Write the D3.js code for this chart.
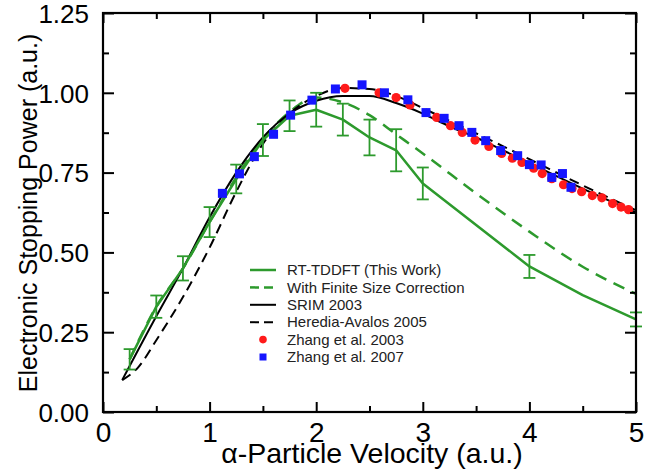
<!DOCTYPE html>
<html><head><meta charset="utf-8">
<script src="https://cdn.jsdelivr.net/npm/d3@7"></script>
<style>body{margin:0;background:#fff}svg{display:block;font-family:"Liberation Sans",Arial,Helvetica,sans-serif}</style>
</head><body><svg id="c" width="650" height="470"></svg>
<script>
// RT-TDDFT (This Work): points with error bars
const tdV   = [0.25,0.5,0.75,1.0,1.25,1.5,1.75,2.0,2.25,2.5,2.75,3.0,4.0,5.0];
const tdS   = [0.165,0.33,0.45,0.595,0.73,0.852,0.928,0.947,0.916,0.86,0.82,0.716,0.456,0.29];
const tdErr = [0.032,0.035,0.038,0.047,0.045,0.05,0.048,0.053,0.05,0.056,0.066,0.05,0.036,0.022];
// RT-TDDFT line
const tdLineV = [0.25,0.5,0.75,1.0,1.25,1.5,1.75,2.0,2.25,2.5,2.75,3.0,4.0,4.5,5.0];
const tdLineS = [0.165,0.33,0.45,0.595,0.73,0.852,0.928,0.947,0.916,0.86,0.82,0.716,0.456,0.366,0.29];
// With finite size correction
const fsV = [0.25,0.5,0.75,1.0,1.25,1.5,1.75,2.0,2.25,2.5,2.75,3.0,3.5,4.0,4.5,5.0];
const fsS = [0.165,0.33,0.45,0.595,0.735,0.855,0.94,0.985,0.97,0.93,0.87,0.81,0.685,0.565,0.455,0.37];
// SRIM 2003
const srimV = [0.18,0.5,0.75,1.0,1.25,1.5,1.75,2.0,2.25,2.5,2.75,3.0,3.25,3.5,3.75,4.0,4.5,5.0];
const srimS = [0.10,0.30,0.45,0.61,0.75,0.86,0.935,0.975,0.99,0.99,0.968,0.935,0.895,0.86,0.82,0.78,0.70,0.625];
// Heredia-Avalos 2005
const herV = [0.18,0.33,0.5,0.75,1.0,1.25,1.5,1.75,2.0,2.25,2.5,2.75,3.0,3.25,3.5,3.75,4.0,4.5,5.0];
const herS = [0.10,0.14,0.225,0.36,0.515,0.69,0.84,0.935,0.99,1.015,1.012,0.99,0.952,0.912,0.873,0.833,0.792,0.71,0.632];
// Zhang et al. 2003
const z03V = [2.27,2.59,2.75,2.88,3.13,3.26,3.37,3.49,3.62,3.74,3.84,3.93,4.04,4.12,4.21,4.32,4.40,4.49,4.59,4.68,4.78,4.86,4.93];
const z03S = [1.014,1.0,0.985,0.962,0.923,0.897,0.876,0.852,0.832,0.81,0.795,0.782,0.764,0.747,0.731,0.712,0.70,0.69,0.678,0.671,0.653,0.642,0.634];
// Zhang et al. 2007
const z07V = [1.12,1.28,1.42,1.6,1.76,1.96,2.18,2.43,2.64,2.86,3.03,3.2,3.34,3.46,3.59,3.73,3.89,4.0,4.11,4.21,4.31,4.39];
const z07S = [0.685,0.746,0.80,0.87,0.93,0.977,1.012,1.025,1.0,0.978,0.938,0.92,0.897,0.876,0.85,0.819,0.803,0.775,0.774,0.735,0.747,0.704];
// ticks and labels
const xMajor = [0,1,2,3,4,5];
const xMinor = [0.5,1.5,2.5,3.5,4.5];
const yMajor = [0,0.25,0.5,0.75,1.0,1.25];
const yMinor = [0.125,0.375,0.625,0.875,1.125];
const legendLabels = ["RT-TDDFT (This Work)","With Finite Size Correction","SRIM 2003","Heredia-Avalos 2005","Zhang et al. 2003","Zhang et al. 2007"];
const xTitle = "α-Particle Velocity (a.u.)";
const yTitle = "Electronic Stopping Power (a.u.)";

const GREEN = "#2d9a2d", RED = "#ff1a1a", BLUE = "#1515ff";
const FONT = "Liberation Sans, Arial, sans-serif";
const svg = d3.select("#c");
const L = 103, R = 636, T = 13, B = 412;
const x = d3.scaleLinear().domain([0,5]).range([L,R]);
const y = d3.scaleLinear().domain([0,1.25]).range([B,T]);
const zip = (a,b) => a.map((v,i)=>[v,b[i]]);

const plot = svg.append("g");
const smooth = d3.line().x(d=>x(d[0])).y(d=>y(d[1])).curve(d3.curveMonotoneX);
const straight = d3.line().x(d=>x(d[0])).y(d=>y(d[1]));

plot.append("path").attr("d", smooth(zip(fsV,fsS))).attr("fill","none").attr("stroke",GREEN).attr("stroke-width",2.5).attr("stroke-dasharray","12,8");
plot.append("path").attr("d", smooth(zip(herV,herS))).attr("fill","none").attr("stroke","#000").attr("stroke-width",2).attr("stroke-dasharray","10,6");
plot.append("path").attr("d", smooth(zip(srimV,srimS))).attr("fill","none").attr("stroke","#000").attr("stroke-width",2);
plot.append("path").attr("d", straight(zip(tdLineV,tdLineS))).attr("fill","none").attr("stroke",GREEN).attr("stroke-width",2.5).attr("stroke-linejoin","round");

// error bars
const eb = plot.append("g").attr("stroke",GREEN).attr("stroke-width",1.8);
tdV.forEach((v,i)=>{
  const cx = x(v), y1 = y(tdS[i]-tdErr[i]), y2 = y(tdS[i]+tdErr[i]);
  eb.append("line").attr("x1",cx).attr("x2",cx).attr("y1",y1).attr("y2",y2);
  eb.append("line").attr("x1",cx-6).attr("x2",cx+6).attr("y1",y1).attr("y2",y1);
  eb.append("line").attr("x1",cx-6).attr("x2",cx+6).attr("y1",y2).attr("y2",y2);
});

// markers
plot.append("g").selectAll("circle").data(zip(z03V,z03S)).join("circle")
  .attr("cx",d=>x(d[0])).attr("cy",d=>y(d[1])).attr("r",4.6).attr("fill",RED);
plot.append("g").selectAll("rect").data(zip(z07V,z07S)).join("rect")
  .attr("x",d=>x(d[0])-4.5).attr("y",d=>y(d[1])-4.5).attr("width",9).attr("height",9).attr("fill",BLUE);

// axes frame
svg.append("rect").attr("x",L).attr("y",T).attr("width",R-L).attr("height",B-T).attr("fill","none").attr("stroke","#000").attr("stroke-width",2.2);
function ticks(axisFn, vals, size, pos, horiz) {
  const g = svg.append("g").attr("transform", horiz ? `translate(0,${pos})` : `translate(${pos},0)`)
    .call(axisFn.tickValues(vals).tickSize(size).tickFormat(""));
  g.select(".domain").remove(); g.selectAll("line").attr("stroke-width",2);
  return g;
}
ticks(d3.axisTop(x), xMajor, -10, T, true);
ticks(d3.axisTop(x), xMinor, -6, T, true);
ticks(d3.axisBottom(x), xMinor, -6, B, true);
ticks(d3.axisLeft(y), yMinor, -6, L, false);
ticks(d3.axisRight(y), yMajor, -11, R, false);
ticks(d3.axisRight(y), yMinor, -6, R, false);

const gB = svg.append("g").attr("transform",`translate(0,${B})`)
  .call(d3.axisBottom(x).tickValues(xMajor).tickSize(-10).tickFormat(d3.format("d")));
gB.select(".domain").remove();
gB.selectAll("line").attr("stroke-width",2);
gB.selectAll("text").attr("font-size",28).attr("font-family",FONT).attr("fill","#000").attr("y",30).attr("dy","0");

const gL = svg.append("g").attr("transform",`translate(${L},0)`)
  .call(d3.axisLeft(y).tickValues(yMajor).tickSize(-11).tickPadding(16).tickFormat(d3.format(".2f")));
gL.select(".domain").remove(); gL.selectAll("line").attr("stroke-width",2);
gL.selectAll("text").attr("font-size",26).attr("font-family",FONT).attr("fill","#000").attr("dx","2").attr("dy","0.36em");

// titles
svg.append("text").attr("x",372).attr("y",463).attr("text-anchor","middle").attr("font-size",28.5).text(xTitle);
svg.append("text").attr("transform","translate(37,213) rotate(-90)").attr("text-anchor","middle").attr("font-size",25).text(yTitle);

// legend
const lg = svg.append("g").attr("font-size",15);
const rowY = i => 270 + i*17.4;
const styles = [
  {type:"line", color:GREEN, dash:null, w:2.5},
  {type:"line", color:GREEN, dash:"9,5", w:2.5},
  {type:"line", color:"#000", dash:null, w:2},
  {type:"line", color:"#000", dash:"9,5", w:2},
  {type:"circle", color:RED},
  {type:"square", color:BLUE}
];
legendLabels.forEach((lab,i)=>{
  const s = styles[i], yy = rowY(i);
  if (s.type==="line") {
    const l = lg.append("line").attr("x1",250).attr("x2",276).attr("y1",yy).attr("y2",yy).attr("stroke",s.color).attr("stroke-width",s.w);
    if (s.dash) l.attr("stroke-dasharray",s.dash);
  } else if (s.type==="circle") {
    lg.append("circle").attr("cx",263).attr("cy",yy).attr("r",3.8).attr("fill",s.color);
  } else {
    lg.append("rect").attr("x",259.5).attr("y",yy-3.5).attr("width",7).attr("height",7).attr("fill",s.color);
  }
  lg.append("text").attr("x",287).attr("y",yy).attr("dy","0.35em").attr("fill","#222").text(lab);
});
</script></body></html>
